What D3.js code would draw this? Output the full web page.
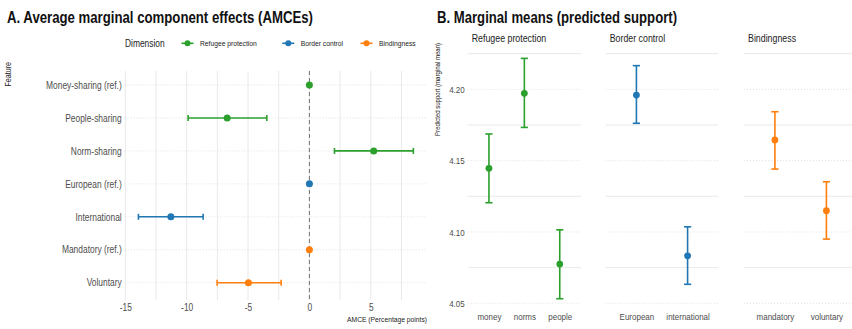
<!DOCTYPE html>
<html><head><meta charset="utf-8">
<script src="https://cdn.jsdelivr.net/npm/d3@7"></script>
<style>
html,body{margin:0;padding:0;background:#fff;}
svg text{font-family:"Liberation Sans",Arial,sans-serif;}
</style></head>
<body><svg id="c" width="852" height="329"></svg>
<script>
// ---------- Data ----------
const dimensions = ["Refugee protection", "Border control", "Bindingness"];
const dimColors = ["#2ca02c", "#1f77b4", "#ff7f0e"];

// Panel A: AMCEs
const amceFeatures = ["Money-sharing (ref.)", "People-sharing", "Norm-sharing", "European (ref.)", "International", "Mandatory (ref.)", "Voluntary"];
const amceDim      = [0, 0, 0, 1, 1, 2, 2];
const amceEst      = [0, -6.7, 5.24, 0, -11.29, 0, -4.97];
const amceLower    = [null, -9.88, 2.04, null, -13.93, null, -7.52];
const amceUpper    = [null, -3.47, 8.47, null, -8.66, null, -2.30];
const amceTicks    = [-15, -10, -5, 0, 5];

// Panel B: marginal means
const mmLevels = [["money", "norms", "people"], ["European", "international"], ["mandatory", "voluntary"]];
const mmEst    = [[4.1446, 4.1972, 4.0775], [4.1960, 4.0833], [4.1645, 4.1149]];
const mmLower  = [[4.1205, 4.1733, 4.0532], [4.1762, 4.0633], [4.1441, 4.0950]];
const mmUpper  = [[4.1687, 4.2217, 4.1015], [4.2166, 4.1036], [4.1843, 4.1352]];
const mmTicks  = [4.05, 4.10, 4.15, 4.20];
const mmMinor  = [4.075, 4.125, 4.175, 4.225];

// ---------- Drawing ----------
const svg = d3.select("#c");
const gridCol = "#e3e3e3", dotCol = "#d2d2d2", tickCol = "#4d4d4d";

// Titles
svg.append("text").attr("x", 7).attr("y", 23).attr("font-size", 16).attr("font-weight", "bold").attr("fill", "#111")
  .attr("data-w", 306).text("A. Average marginal component effects (AMCEs)");
svg.append("text").attr("x", 437).attr("y", 23).attr("font-size", 16).attr("font-weight", "bold").attr("fill", "#111")
  .attr("data-w", 240).text("B. Marginal means (predicted support)");

// ----- Panel A -----
const ax = d3.scaleLinear().domain([-15.05, 9.59]).range([124.7, 427.1]);
const ay = d3.scalePoint().domain(amceFeatures).range([85, 282.7]);
const aTop = 71, aBot = 300;

const vgrid = d3.range(-15, 9.6, 2.5);
svg.append("g").selectAll("line").data(vgrid).join("line")
  .attr("x1", d => ax(d)).attr("x2", d => ax(d)).attr("y1", aTop).attr("y2", aBot)
  .attr("stroke", gridCol).attr("stroke-width", 0.8);
svg.append("g").selectAll("line").data(amceFeatures).join("line")
  .attr("x1", ax.range()[0]).attr("x2", ax.range()[1]).attr("y1", d => ay(d)).attr("y2", d => ay(d))
  .attr("stroke", dotCol).attr("stroke-width", 0.7).attr("stroke-dasharray", "1,2");
svg.append("line").attr("x1", ax(0)).attr("x2", ax(0)).attr("y1", aTop).attr("y2", aBot)
  .attr("stroke", "#555").attr("stroke-width", 0.8).attr("stroke-dasharray", "4,3");

const xAxisA = d3.axisBottom(ax).tickValues(amceTicks).tickSize(0).tickPadding(4).tickFormat(d3.format("d"));
const gxa = svg.append("g").attr("transform", `translate(0,${aBot})`).call(xAxisA);
gxa.select(".domain").remove();
gxa.selectAll("text").attr("font-size", 10).attr("fill", tickCol).text(d => d < 0 ? "-" + Math.abs(d) : d);

const yAxisA = d3.axisLeft(ay).tickSize(0).tickPadding(3);
const gya = svg.append("g").attr("transform", `translate(${ax.range()[0]},0)`).call(yAxisA);
gya.select(".domain").remove();
gya.selectAll("text").attr("font-size", 10).attr("fill", tickCol);

svg.append("text").attr("x", 427).attr("y", 322).attr("text-anchor", "end").attr("font-size", 8).attr("fill", "#222")
  .text("AMCE (Percentage points)");
svg.append("text").attr("transform", "translate(11,62) rotate(-90)").attr("text-anchor", "end").attr("font-size", 8.5).attr("fill", "#222")
  .text("Feature");

const aIdx = d3.range(amceFeatures.length);
const gA = svg.append("g");
aIdx.forEach(i => {
  const c = dimColors[amceDim[i]], y = ay(amceFeatures[i]);
  if (amceLower[i] !== null) {
    gA.append("line").attr("x1", ax(amceLower[i])).attr("x2", ax(amceUpper[i])).attr("y1", y).attr("y2", y)
      .attr("stroke", c).attr("stroke-width", 1.6);
    [amceLower[i], amceUpper[i]].forEach(v => {
      gA.append("line").attr("x1", ax(v)).attr("x2", ax(v)).attr("y1", y - 3).attr("y2", y + 3)
        .attr("stroke", c).attr("stroke-width", 1.6);
    });
  }
  gA.append("circle").attr("cx", ax(amceEst[i])).attr("cy", y).attr("r", 3.5).attr("fill", c);
});

// legend
svg.append("text").attr("x", 125).attr("y", 46.5).attr("font-size", 10).attr("fill", "#222").text("Dimension");
const legX = [187.5, 288.3, 366.5];
dimensions.forEach((d, i) => {
  const g = svg.append("g");
  g.append("line").attr("x1", legX[i] - 6).attr("x2", legX[i] + 6).attr("y1", 43.3).attr("y2", 43.3)
    .attr("stroke", dimColors[i]).attr("stroke-width", 1.6);
  g.append("circle").attr("cx", legX[i]).attr("cy", 43.3).attr("r", 3).attr("fill", dimColors[i]);
  g.append("text").attr("x", legX[i] + 12.5).attr("y", 46).attr("font-size", 8).attr("fill", "#222").text(d);
});

// ----- Panel B -----
const by = d3.scaleLinear().domain([4.0448, 4.2301]).range([310.7, 46.4]);
const panelX = [[467.7, 581], [605.7, 718.3], [744, 857.3]];

panelX.forEach((px, p) => {
  const g = svg.append("g");
  const bx = d3.scalePoint().domain(mmLevels[p]).range(px).padding(0.6);
  g.append("g").selectAll("line").data(mmMinor).join("line")
    .attr("x1", px[0]).attr("x2", px[1]).attr("y1", d => by(d)).attr("y2", d => by(d))
    .attr("stroke", gridCol).attr("stroke-width", 0.8);
  g.append("g").selectAll("line").data(mmTicks).join("line")
    .attr("x1", px[0]).attr("x2", px[1]).attr("y1", d => by(d)).attr("y2", d => by(d))
    .attr("stroke", dotCol).attr("stroke-width", 0.7).attr("stroke-dasharray", "1,2");
  g.append("text").attr("x", px[0] + 4).attr("y", 42).attr("font-size", 10.5).attr("fill", "#222").text(dimensions[p]);
  const xa = d3.axisBottom(bx).tickSize(0).tickPadding(3);
  const gx = g.append("g").attr("transform", `translate(0,${by.range()[0]})`).call(xa);
  gx.select(".domain").remove();
  gx.selectAll("text").attr("font-size", 9.5).attr("fill", tickCol);
  mmLevels[p].forEach((lv, j) => {
    const x = bx(lv), c = dimColors[p];
    g.append("line").attr("x1", x).attr("x2", x).attr("y1", by(mmLower[p][j])).attr("y2", by(mmUpper[p][j]))
      .attr("stroke", c).attr("stroke-width", 1.6);
    [mmLower[p][j], mmUpper[p][j]].forEach(v => {
      g.append("line").attr("x1", x - 3.6).attr("x2", x + 3.6).attr("y1", by(v)).attr("y2", by(v))
        .attr("stroke", c).attr("stroke-width", 1.6);
    });
    g.append("circle").attr("cx", x).attr("cy", by(mmEst[p][j])).attr("r", 3.4).attr("fill", c);
  });
});

const yAxisB = d3.axisLeft(by).tickValues(mmTicks).tickSize(0).tickPadding(3).tickFormat(d3.format(".2f"));
const gyb = svg.append("g").attr("transform", `translate(${panelX[0][0]},0)`).call(yAxisB);
gyb.select(".domain").remove();
gyb.selectAll("text").attr("font-size", 9.5).attr("fill", tickCol);

svg.append("text").attr("transform", "translate(440,43) rotate(-90)").attr("text-anchor", "end").attr("font-size", 7.2).attr("fill", "#222")
  .text("Predicted support (marginal mean)");

// Condense all text horizontally (the reference uses a narrow sans face)
svg.selectAll("text").each(function () {
  const w = this.getComputedTextLength();
  const target = this.hasAttribute("data-w") ? +this.getAttribute("data-w") : w * 0.84;
  this.setAttribute("textLength", target);
  this.setAttribute("lengthAdjust", "spacingAndGlyphs");
});
</script></body></html>
